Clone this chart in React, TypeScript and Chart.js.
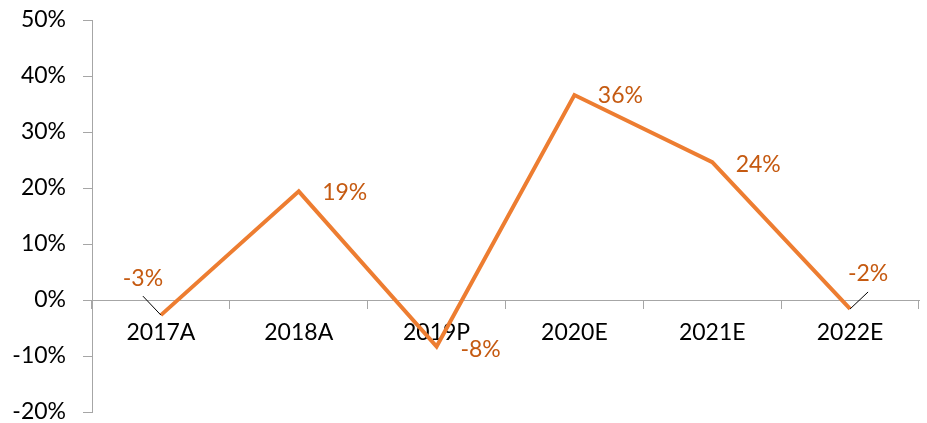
import React, { useEffect, useRef } from "react";
import { Chart, registerables } from "chart.js";

Chart.register(...registerables);

const categories = ["2017A", "2018A", "2019P", "2020E", "2021E", "2022E"];
const growth = [-2.7, 19.4, -8.3, 36.6, 24.6, -1.6];
const growthLabels = ["-3%", "19%", "-8%", "36%", "24%", "-2%"];
const yMin = -20;
const yMax = 50;
const yStep = 10;

// label placement relative to each point (styling)
const labelOffsets = [
  [-18, -37],
  [46, 1],
  [44, 3],
  [46, 1],
  [46, 2],
  [18, -35],
];
const leaderLines: Record<number, [number, number]> = {
  0: [-18, -19],
  5: [18, -17],
};

const FONT = "Lato, 'Open Sans', sans-serif";
const FONT_SIZE = 23;
const AXIS_GRAY = "#A6A6A6";
const LINE_COLOR = "#ED7D31";
const LABEL_COLOR = "#C55A11";

const labelPlugin = {
  id: "pointLabels",
  afterDatasetsDraw(chart: any) {
    const meta = chart.getDatasetMeta(0);
    const ctx = chart.ctx;
    ctx.save();
    meta.data.forEach((el: any, i: number) => {
      const x = el.x;
      const y = el.y;
      const ll = leaderLines[i];
      if (ll) {
        ctx.strokeStyle = "#000";
        ctx.lineWidth = 1;
        ctx.beginPath();
        ctx.moveTo(x, y);
        ctx.lineTo(x + ll[0], y + ll[1]);
        ctx.stroke();
      }
      const off = labelOffsets[i];
      ctx.fillStyle = LABEL_COLOR;
      ctx.font = `${FONT_SIZE}px ${FONT}`;
      ctx.textAlign = "center";
      ctx.textBaseline = "middle";
      ctx.fillText(growthLabels[i], x + off[0], y + off[1]);
    });
    ctx.restore();
  },
};

const zeroPad = (s: any) => {
  s.paddingTop = 0;
  s.paddingBottom = 0;
  s.paddingLeft = 0;
  s.paddingRight = 0;
};

export default function App() {
  const ref = useRef<HTMLCanvasElement | null>(null);
  useEffect(() => {
    if (!ref.current) return;
    const chart = new Chart(ref.current, {
      type: "line",
      data: {
        labels: categories,
        datasets: [
          {
            data: growth,
            borderColor: LINE_COLOR,
            borderWidth: 4,
            pointRadius: 0,
            tension: 0,
            fill: false,
            borderJoinStyle: "miter",
          },
        ],
      },
      options: {
        animation: false,
        responsive: true,
        maintainAspectRatio: false,
        layout: { padding: { top: 20, bottom: 11, right: 8, left: 0 } },
        plugins: {
          legend: { display: false },
          tooltip: { enabled: false },
        },
        scales: {
          x: {
            type: "category",
            position: { y: 0 } as any,
            offset: true,
            afterFit: zeroPad,
            grid: {
              offset: true,
              drawOnChartArea: false,
              drawTicks: true,
              tickLength: 8,
              color: AXIS_GRAY,
            },
            border: { color: AXIS_GRAY, width: 1 },
            ticks: {
              color: "#000",
              font: { family: FONT, size: FONT_SIZE },
              padding: 11,
              maxRotation: 0,
              autoSkip: false,
            },
          },
          y: {
            min: yMin,
            max: yMax,
            afterFit: (s: any) => {
              s.width = 92;
              zeroPad(s);
            },
            grid: {
              drawOnChartArea: false,
              drawTicks: true,
              tickLength: 9,
              color: AXIS_GRAY,
            },
            border: { color: AXIS_GRAY, width: 1 },
            ticks: {
              stepSize: yStep,
              color: "#000",
              font: { family: FONT, size: FONT_SIZE },
              padding: 17,
              callback: (v: any) => `${v}%`,
            },
          },
        },
      },
      plugins: [labelPlugin],
    });
    return () => chart.destroy();
  }, []);
  return (
    <div style={{ position: "absolute", left: 0, top: 0, width: 927, height: 423, background: "#fff" }}>
      <canvas ref={ref} />
    </div>
  );
}
